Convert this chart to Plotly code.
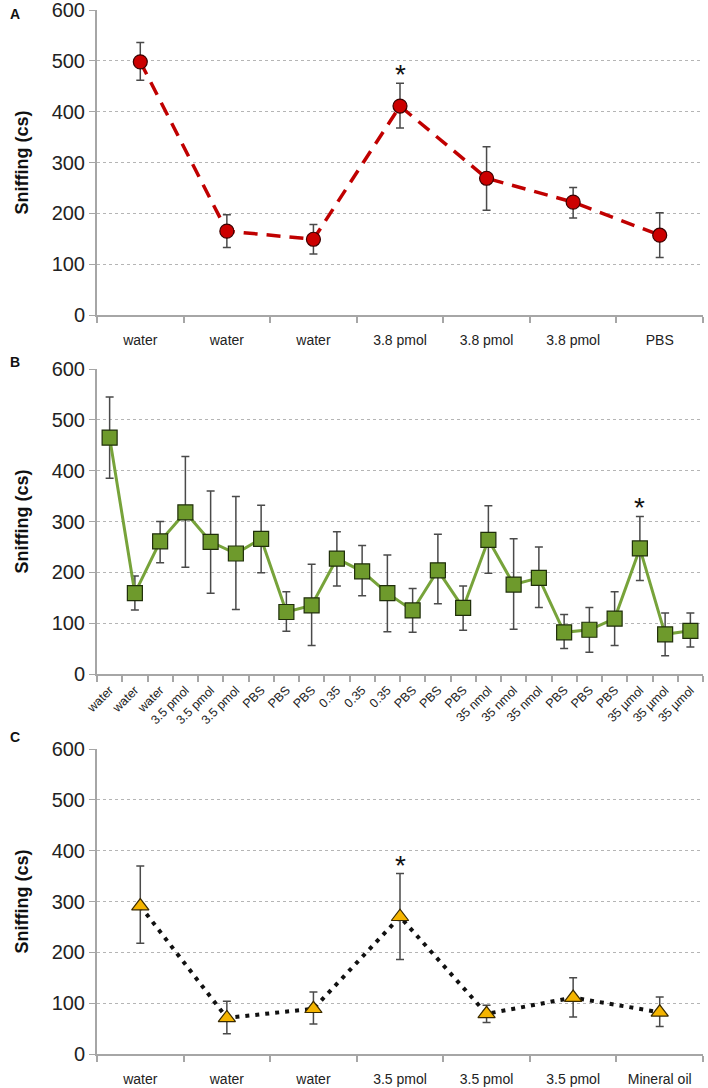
import plotly.graph_objects as go
from plotly.subplots import make_subplots

# ---- Panel A data ----
a_labels = ["water", "water", "water", "3.8 pmol", "3.8 pmol", "3.8 pmol", "PBS"]
a_vals = [498, 165, 149, 411, 269, 222, 157]
a_err_up = [38, 32, 29, 45, 62, 29, 44]
a_err_dn = [36, 32, 29, 43, 63, 31, 44]

# ---- Panel B data ----
b_labels = ["water", "water", "water", "3.5 pmol", "3.5 pmol", "3.5 pmol",
            "PBS", "PBS", "PBS", "0.35", "0.35", "0.35",
            "PBS", "PBS", "PBS", "35 nmol", "35 nmol", "35 nmol",
            "PBS", "PBS", "PBS", "35 µmol", "35 µmol", "35 µmol"]
b_vals = [465, 159, 261, 318, 260, 237, 266, 122, 135, 227, 202, 159,
          125, 204, 130, 264, 176, 189, 82, 87, 109, 247, 78, 85]
b_err_up = [80, 34, 39, 110, 100, 112, 66, 40, 81, 53, 51, 75,
            43, 71, 43, 67, 90, 61, 35, 44, 53, 63, 42, 35]
b_err_dn = [80, 33, 42, 108, 101, 110, 67, 38, 79, 54, 48, 76,
            43, 66, 44, 66, 88, 58, 32, 44, 53, 63, 42, 32]

# ---- Panel C data ----
c_labels = ["water", "water", "water", "3.5 pmol", "3.5 pmol", "3.5 pmol", "Mineral oil"]
c_vals = [291, 71, 89, 270, 79, 111, 82]
c_err_up = [79, 33, 33, 85, 17, 39, 30]
c_err_dn = [73, 31, 30, 84, 17, 38, 28]

# significance markers (index of category)
a_star = [3]
b_star = [21]
c_star = [3]

y_ticks = [0, 100, 200, 300, 400, 500, 600]

fig = make_subplots(rows=3, cols=1, shared_xaxes=False)

ERR = dict(type="data", symmetric=False, color="#4a4a4a", thickness=1.5, width=4)

def add_series(row, labels, vals, up, dn, line, marker):
    x = list(range(len(labels)))
    fig.add_trace(go.Scatter(
        x=x, y=vals, mode="lines+markers", line=line, marker=marker,
        error_y=dict(ERR, array=up, arrayminus=dn), showlegend=False,
    ), row=row, col=1)

add_series(1, a_labels, a_vals, a_err_up, a_err_dn,
           dict(color="#c00000", width=3.5, dash="14px,9px"),
           dict(symbol="circle", size=14, color="#cc0000", line=dict(color="#3a0000", width=1.2)))
add_series(2, b_labels, b_vals, b_err_up, b_err_dn,
           dict(color="#77a33a", width=3),
           dict(symbol="square", size=15, color="#6e9a2c", line=dict(color="#1f2e0a", width=1.2)))
add_series(3, c_labels, c_vals, c_err_up, c_err_dn,
           dict(color="#111111", width=4, dash="4px,6px"),
           dict(symbol="triangle-up", size=15, color="#f4b400", line=dict(color="#3a2a00", width=1.2)))

H, W, T, B, L, R = 1088, 708, 10, 34, 97, 5
PH = H - T - B

def ydom(top_px, bot_px):
    return [(H - B - bot_px) / PH, min(1.0, (H - B - top_px) / PH)]

domains = [ydom(10, 315), ydom(369, 674), ydom(749, 1054)]
all_labels = [a_labels, b_labels, c_labels]
font_family = "Liberation Sans, Arial, sans-serif"

for i in range(3):
    n = len(all_labels[i])
    xa = "xaxis" if i == 0 else f"xaxis{i+1}"
    ya = "yaxis" if i == 0 else f"yaxis{i+1}"
    fig.layout[xa].update(
        range=[-0.5, n - 0.5], tickmode="array", tickvals=list(range(n)),
        ticktext=all_labels[i], ticks="", showgrid=False, zeroline=False,
        showline=True, linecolor="#a6a6a6", linewidth=2, automargin=False,
        tickfont=dict(family=font_family, size=12.5 if i == 1 else 14, color="#222"),
        tickangle=-45 if i == 1 else 0,
        ticklabelstandoff=2 if i == 1 else 11,
        ticklabeloverflow="allow",
        minor=dict(tickmode="array", tickvals=[k - 0.5 for k in range(n + 1)],
                   ticks="outside", ticklen=6, tickcolor="#a6a6a6", tickwidth=1.5,
                   showgrid=False),
    )
    fig.layout[ya].update(
        domain=domains[i], range=[0, 600], tickmode="array", tickvals=y_ticks,
        showgrid=True, gridcolor="#b5b5b5", griddash="dot", gridwidth=1,
        zeroline=False, showline=True, linecolor="#a6a6a6", linewidth=2,
        ticks="outside", ticklen=6, tickcolor="#a6a6a6", automargin=False,
        ticklabeloverflow="allow",
        tickfont=dict(family=font_family, size=20, color="#222"),
        title=dict(text="<b>Sniffing (cs)</b>", standoff=18,
                   font=dict(family=font_family, size=18, color="#111")),
    )

# asterisks
stars = [(1, a_star, a_vals, a_err_up), (2, b_star, b_vals, b_err_up), (3, c_star, c_vals, c_err_up)]
for row, idxs, vals, up in stars:
    xr = "x" if row == 1 else f"x{row}"
    yr = "y" if row == 1 else f"y{row}"
    for k in idxs:
        fig.add_annotation(x=k, y=vals[k] + up[k], xref=xr, yref=yr, text="*",
                           showarrow=False, yanchor="bottom", yshift=-9,
                           font=dict(family=font_family, size=28, color="#111"))

# panel letters (pixel positions converted to paper coords)
for letter, ypix in [("A", 14), ("B", 362), ("C", 737)]:
    fig.add_annotation(x=(8 - L) / (W - L - R), y=(H - B - ypix) / PH,
                       xref="paper", yref="paper", text=f"<b>{letter}</b>",
                       xanchor="left", yanchor="middle",
                       showarrow=False, font=dict(family=font_family, size=14, color="#111"))

fig.update_layout(
    width=W, height=H, plot_bgcolor="white", paper_bgcolor="white",
    margin=dict(l=L, r=R, t=T, b=B, autoexpand=False),
    font=dict(family=font_family),
)

fig.write_html("out.html", config={"displayModeBar": False},
               post_script="document.body.style.margin='0';")
